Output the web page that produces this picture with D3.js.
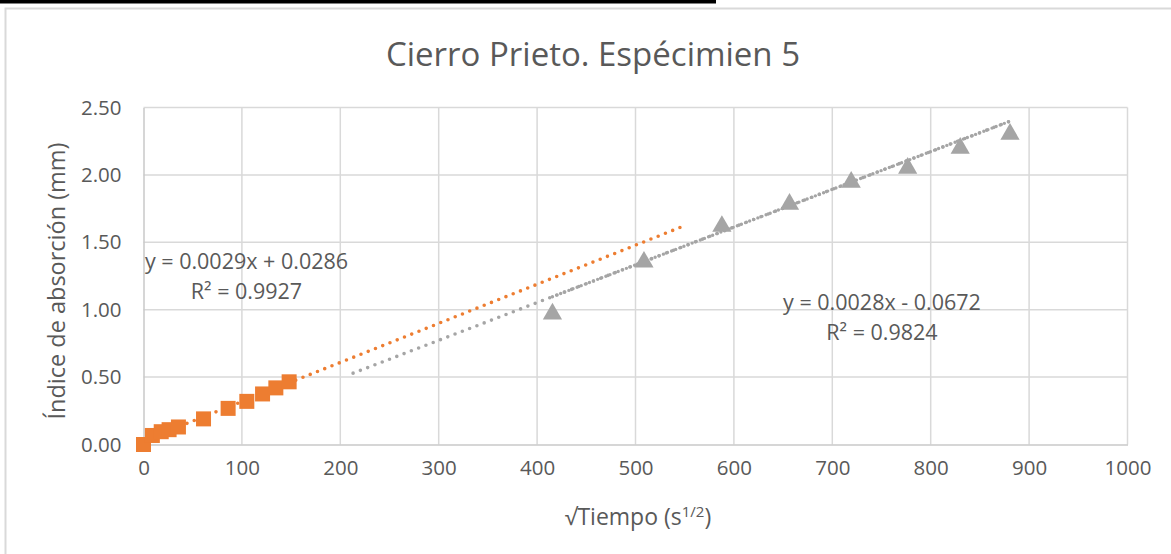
<!DOCTYPE html>
<html>
<head>
<meta charset="utf-8">
<script src="https://cdn.jsdelivr.net/npm/d3@7"></script>
<style>
  body { margin: 0; background: #fff; }
  svg text { font-family: "Open Sans", "Noto Sans", sans-serif; fill: #595959; }
</style>
</head>
<body>
<svg id="chart" width="1171" height="554"></svg>
<script>
// Axis ticks
const xTicks = [0, 100, 200, 300, 400, 500, 600, 700, 800, 900, 1000];
const yTicks = [0, 0.5, 1.0, 1.5, 2.0, 2.5];

// Early stage: √t (s^1/2) and absorption index (mm)
const earlyTime  = [0, 9, 18, 26, 35.5, 61, 86, 105, 121, 134.5, 148];
const earlyIndex = [0, 0.067, 0.095, 0.11, 0.13, 0.19, 0.268, 0.32, 0.375, 0.42, 0.465];

// Late stage
const lateTime  = [415.6, 508.6, 587.8, 656.5, 719.2, 776.6, 830, 880.6];
const lateIndex = [0.976, 1.361, 1.626, 1.79, 1.954, 2.058, 2.206, 2.31];

// Linear fits: [slope, intercept], drawn over [from, to]
const earlyFit = [0.0029, 0.0286];
const earlyFitSpan = [0, 548];
const lateFit = [0.0028, -0.0672];
const lateFitSpan = [213, 880.6];

const earlyEq = ["y = 0.0029x + 0.0286", "R² = 0.9927"];
const lateEq  = ["y = 0.0028x - 0.0672", "R² = 0.9824"];

const ORANGE = "#ED7D31", GREY = "#A5A5A5";

const svg = d3.select("#chart");

// frame
svg.append("rect").attr("x", 0).attr("y", 0).attr("width", 716).attr("height", 3.5).attr("fill", "#000");
svg.append("rect").attr("x", 5.5).attr("y", 8.5).attr("width", 1180).attr("height", 560)
  .attr("fill", "none").attr("stroke", "#d9d9d9").attr("stroke-width", 2);

const x = d3.scaleLinear().domain([0, 1000]).range([143.5, 1127.5]);
const y = d3.scaleLinear().domain([0, 2.5]).range([444.5, 107.5]);

// gridlines
const grid = svg.append("g");
grid.selectAll("line.v").data(xTicks.slice(1)).join("line")
  .attr("x1", d => x(d)).attr("x2", d => x(d)).attr("y1", y(0)).attr("y2", y(2.5))
  .attr("stroke", "#d9d9d9").attr("stroke-width", 1.5);
grid.selectAll("line.h").data(yTicks.slice(1)).join("line")
  .attr("x1", x(0)).attr("x2", x(1000)).attr("y1", d => y(d)).attr("y2", d => y(d))
  .attr("stroke", "#d9d9d9").attr("stroke-width", 1.5);

// axes
const xAxis = svg.append("g").attr("transform", `translate(0,${y(0)})`)
  .call(d3.axisBottom(x).tickValues(xTicks).tickSize(0).tickPadding(16).tickFormat(d3.format("d")));
const yAxis = svg.append("g").attr("transform", `translate(${x(0)},0)`)
  .call(d3.axisLeft(y).tickValues(yTicks).tickSize(0).tickPadding(22).tickFormat(d3.format(".2f")));
[xAxis, yAxis].forEach(a => {
  a.select(".domain").attr("stroke", "#c8c8c8").attr("stroke-width", 1.5);
  a.selectAll("text").style("font-size", "20.5px").attr("fill", "#595959");
});

// trend lines
function fitLine(fit, span, color, dash, width) {
  svg.append("line")
    .attr("x1", x(span[0])).attr("y1", y(fit[0] * span[0] + fit[1]))
    .attr("x2", x(span[1])).attr("y2", y(fit[0] * span[1] + fit[1]))
    .attr("stroke", color).attr("stroke-width", width)
    .attr("stroke-linecap", "round").attr("stroke-dasharray", dash);
}
fitLine(earlyFit, earlyFitSpan, ORANGE, "0 7.8", 3.6);
fitLine(lateFit, lateFitSpan, GREY, "0 7.8", 3.6);
// denser dotting where the fit overlaps the measured range
fitLine(lateFit, [lateTime[0], lateFitSpan[1]], GREY, "0 4.4", 3.4);

// markers
const early = earlyTime.map((t, i) => [t, earlyIndex[i]]);
const late = lateTime.map((t, i) => [t, lateIndex[i]]);

svg.append("g").selectAll("rect").data(early).join("rect")
  .attr("x", d => x(d[0]) - 7.5).attr("y", d => y(d[1]) - 7.5)
  .attr("width", 15).attr("height", 15).attr("fill", ORANGE);

const tri = d3.symbol().type(d3.symbolTriangle).size(160);
svg.append("g").selectAll("path").data(late).join("path")
  .attr("d", tri)
  .attr("transform", d => `translate(${x(d[0])},${y(d[1]) + 1})`)
  .attr("fill", GREY);

// equation labels
function eqLabel(lines, cx, cy) {
  const t = svg.append("text").attr("text-anchor", "middle").style("font-size", "21.5px");
  lines.forEach((s, i) => t.append("tspan").attr("x", cx).attr("y", cy + i * 30).text(s));
}
eqLabel(earlyEq, 246.5, 269);
eqLabel(lateEq, 882, 310);

// titles
svg.append("text").attr("x", 593).attr("y", 66).attr("text-anchor", "middle")
  .style("font-size", "33px").text("Cierro Prieto. Espécimien 5");

const xt = svg.append("text").attr("x", 638).attr("y", 525).attr("text-anchor", "middle").style("font-size", "23px");
xt.append("tspan").text("√Tiempo (s");
xt.append("tspan").attr("dy", -8).style("font-size", "15px").text("1/2");
xt.append("tspan").attr("dy", 8).text(")");

svg.append("text").attr("transform", "translate(65,281) rotate(-90)").attr("text-anchor", "middle")
  .style("font-size", "23.5px").text("Índice de absorción (mm)");
</script>
</body>
</html>
